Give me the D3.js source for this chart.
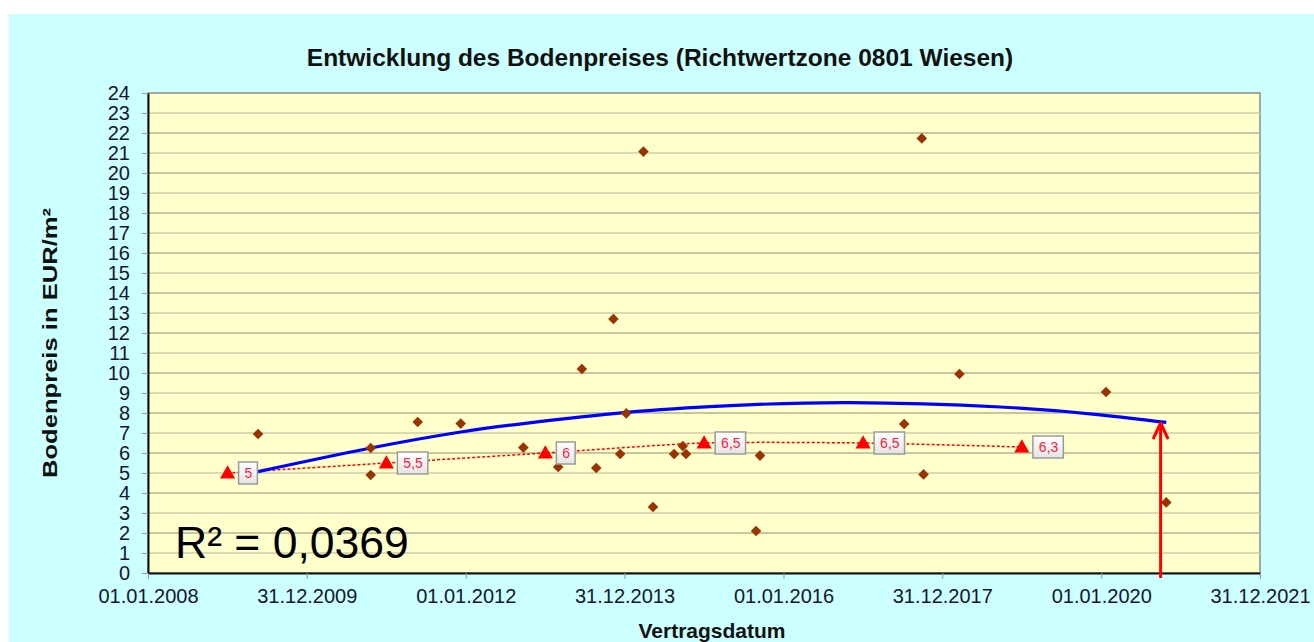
<!DOCTYPE html>
<html>
<head>
<meta charset="utf-8">
<script src="https://cdn.jsdelivr.net/npm/d3@7"></script>
<style>
  body { margin: 0; background: #ffffff; }
  svg { display: block; font-family: Arial, "Liberation Sans", sans-serif; }
</style>
</head>
<body>
<svg></svg>
<script>
const parseDate = d3.timeParse("%d.%m.%Y");

// Kaufpreise (Vertragsdatum, EUR/m²)
const sales = [
  ["21.05.2009", 6.95], ["21.10.2010", 6.25], ["21.10.2010", 4.9],
  ["25.05.2011", 7.55], ["09.12.2011", 7.47], ["22.09.2012", 6.27],
  ["01.03.2013", 5.3], ["18.06.2013", 10.2], ["23.08.2013", 5.25],
  ["10.11.2013", 12.7], ["11.12.2013", 5.95], ["08.01.2014", 7.98],
  ["28.03.2014", 21.07], ["11.05.2014", 3.3], ["16.08.2014", 5.95],
  ["25.09.2014", 6.35], ["10.10.2014", 5.95], ["28.08.2015", 2.1],
  ["15.09.2015", 5.87], ["09.07.2017", 7.45], ["28.09.2017", 21.73],
  ["06.10.2017", 4.93], ["20.03.2018", 9.95], ["23.01.2020", 9.05],
  ["26.10.2020", 3.53]
].map(d => ({"date": parseDate(d[0]), "value": d[1]}));

// Bodenrichtwerte
const richtwerte = [
  ["01.01.2009", 5], ["01.01.2011", 5.5], ["01.01.2013", 6],
  ["01.01.2015", 6.5], ["01.01.2017", 6.5], ["01.01.2019", 6.3]
].map(d => ({"date": parseDate(d[0]), "value": d[1]}));

// polynomische Trendlinie
const trend = [
  ["21.05.2009", 5.07], ["21.10.2010", 6.25], ["09.12.2011", 7.05],
  ["22.09.2012", 7.47], ["08.01.2014", 8.03], ["01.05.2015", 8.37],
  ["01.11.2016", 8.52], ["24.09.2018", 8.30], ["27.12.2019", 7.91],
  ["26.10.2020", 7.53]
].map(d => ({"date": parseDate(d[0]), "value": d[1]}));

const stichtag = {"date": parseDate("30.09.2020"), "value": 7.55};

const tickDates = ["01.01.2008", "31.12.2009", "01.01.2012", "31.12.2013",
                   "01.01.2016", "31.12.2017", "01.01.2020", "31.12.2021"].map(parseDate);

const canvasWidth = 1314;
const canvasHeight = 642;
const margins = {"left": 148, "right": 54, "top": 93, "bottom": 69};

var svg = d3.select("svg")
            .attr("width", canvasWidth)
            .attr("height", canvasHeight);

// hellblauer Hintergrund
svg.append("rect")
   .attr("x", 9).attr("y", 14)
   .attr("width", canvasWidth - 9).attr("height", canvasHeight - 14)
   .attr("fill", "#ccffff");

const xScale = d3.scaleTime()
                 .domain([tickDates[0], tickDates[tickDates.length - 1]])
                 .range([margins.left, canvasWidth - margins.right]);
const yScale = d3.scaleLinear()
                 .domain([0, 24])
                 .range([canvasHeight - margins.bottom, margins.top]);

// Plotfläche
svg.append("rect")
   .attr("x", margins.left).attr("y", margins.top)
   .attr("width", xScale.range()[1] - margins.left)
   .attr("height", yScale(0) - margins.top)
   .attr("fill", "#ffffcc")
   .attr("stroke", "#8c8c8c")
   .attr("stroke-width", 1.5);

// Gitternetz
svg.append("g")
   .selectAll("line")
   .data(d3.range(1, 24))
   .enter()
   .append("line")
   .attr("x1", margins.left).attr("x2", xScale.range()[1])
   .attr("y1", d => yScale(d)).attr("y2", d => yScale(d))
   .attr("stroke", d => d % 2 ? "#cdcdaa" : "#b3b393")
   .attr("stroke-width", 1.6);

const xAxis = d3.axisBottom(xScale)
                .tickValues(tickDates)
                .tickFormat(d3.timeFormat("%d.%m.%Y"))
                .tickSize(6)
                .tickPadding(10)
                .tickSizeOuter(0);
const yAxis = d3.axisLeft(yScale)
                .ticks(24)
                .tickFormat(d3.format("d"))
                .tickSize(6)
                .tickPadding(12)
                .tickSizeOuter(0);

var gx = svg.append("g")
            .attr("transform", "translate(0," + yScale(0) + ")")
            .call(xAxis);
var gy = svg.append("g")
            .attr("transform", "translate(" + margins.left + ",0)")
            .call(yAxis);

[gx, gy].forEach(function(g){
  g.select(".domain").attr("stroke", "#111").attr("stroke-width", 2);
  g.selectAll(".tick line").attr("stroke", "#999");
  g.selectAll(".tick text")
   .attr("fill", "#161630")
   .style("font-size", "20px")
   .style("font-family", "Arial, 'Liberation Sans', sans-serif");
});

// Titel
svg.append("text")
   .attr("x", 660).attr("y", 66)
   .attr("text-anchor", "middle")
   .style("font-size", "24.5px").style("font-weight", "bold")
   .attr("fill", "#111")
   .text("Entwicklung des Bodenpreises (Richtwertzone 0801 Wiesen)");

// Achsentitel
svg.append("text")
   .attr("x", 712).attr("y", 638)
   .attr("text-anchor", "middle")
   .style("font-size", "21px").style("font-weight", "bold")
   .attr("fill", "#111")
   .text("Vertragsdatum");

svg.append("text")
   .attr("transform", "translate(57,343) rotate(-90)")
   .attr("text-anchor", "middle")
   .attr("textLength", 270)
   .attr("lengthAdjust", "spacingAndGlyphs")
   .style("font-size", "20px").style("font-weight", "bold")
   .attr("fill", "#111")
   .text("Bodenpreis in EUR/m²");

// R²
svg.append("text")
   .attr("x", 175).attr("y", 558)
   .style("font-size", "44.5px")
   .attr("fill", "#000")
   .text("R² = 0,0369");

// Bodenrichtwerte: gestrichelte Linie
const line = d3.line()
               .x(d => xScale(d.date))
               .y(d => yScale(d.value));

svg.append("path")
   .datum(richtwerte)
   .attr("d", line.curve(d3.curveCardinal.tension(0.3)))
   .attr("fill", "none")
   .attr("stroke", "#ff0000")
   .attr("stroke-width", 1.5)
   .attr("stroke-dasharray", "3,2");

// Trendlinie
svg.append("path")
   .datum(trend)
   .attr("d", line.curve(d3.curveNatural))
   .attr("fill", "none")
   .attr("stroke", "#0000ff")
   .attr("stroke-width", 3.2);

// Kaufpreise
svg.append("g")
   .selectAll("path")
   .data(sales)
   .enter()
   .append("path")
   .attr("d", d3.symbol(d3.symbolSquare, 56))
   .attr("transform", d => "translate(" + xScale(d.date) + "," + yScale(d.value) + ") rotate(45)")
   .attr("fill", "#993300");

// Beschriftung der Richtwerte
var grad = svg.append("defs").append("linearGradient")
              .attr("id", "boxfill")
              .attr("x1", 0).attr("y1", 0).attr("x2", 0).attr("y2", 1);
grad.append("stop").attr("offset", "0%").attr("stop-color", "#ffffff");
grad.append("stop").attr("offset", "100%").attr("stop-color", "#e4e4e4");

const fmt = d => d3.format(".1~f")(d).replace(".", ",");

var labels = svg.append("g")
                .selectAll("g")
                .data(richtwerte)
                .enter()
                .append("g")
                .attr("transform", d => "translate(" + (xScale(d.date) + 11) + "," + yScale(d.value) + ")");

labels.append("text")
      .attr("x", 6).attr("y", 5)
      .style("font-size", "14px")
      .attr("fill", "#ff1a40")
      .text(d => fmt(d.value))
      .each(function(){
        var w = this.getComputedTextLength();
        d3.select(this.parentNode).insert("rect", "text")
          .attr("x", 0).attr("y", -11)
          .attr("width", w + 11).attr("height", 22)
          .attr("fill", "url(#boxfill)")
          .attr("stroke", "#9a9a9a")
          .attr("stroke-width", 1.5);
      });

svg.append("g")
   .selectAll("path")
   .data(richtwerte)
   .enter()
   .append("path")
   .attr("d", d3.symbol(d3.symbolTriangle, 100))
   .attr("transform", d => "translate(" + xScale(d.date) + "," + (yScale(d.value) + 1) + ")")
   .attr("fill", "#ff0000");

// Pfeil zum Stichtag
var ax = xScale(stichtag.date);
svg.append("line")
   .attr("x1", ax).attr("x2", ax)
   .attr("y1", yScale(0) + 5).attr("y2", yScale(stichtag.value) + 1)
   .attr("stroke", "#ff0000")
   .attr("stroke-width", 3);
svg.append("path")
   .attr("d", "M" + (ax - 7) + "," + (yScale(stichtag.value) + 16) +
              "L" + ax + "," + (yScale(stichtag.value) + 1) +
              "L" + (ax + 7) + "," + (yScale(stichtag.value) + 16))
   .attr("fill", "none")
   .attr("stroke", "#ff0000")
   .attr("stroke-width", 3)
   .attr("stroke-linejoin", "round")
   .attr("stroke-linecap", "round");
</script>
</body>
</html>
